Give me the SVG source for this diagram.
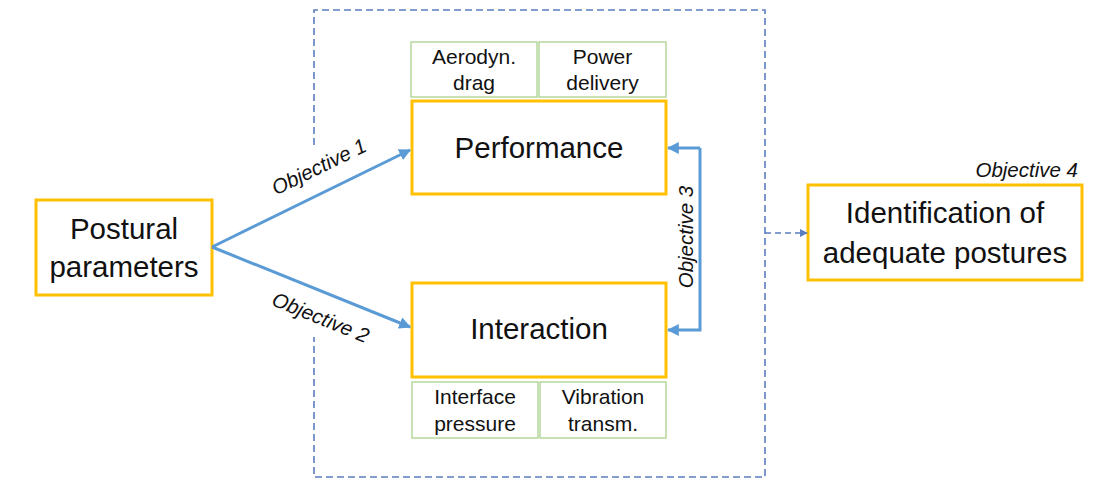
<svg xmlns="http://www.w3.org/2000/svg" width="1103" height="480" viewBox="0 0 1103 480">
  <style>
    .main { fill: #ffffff; stroke: #FFC000; stroke-width: 3; }
    .sub { fill: #ffffff; stroke: #A9D18E; stroke-width: 1.3; }
    .big { font-family: "Liberation Sans", Arial, sans-serif; font-size: 29.5px; fill: #111; text-anchor: middle; }
    .small { font-family: "Liberation Sans", Arial, sans-serif; font-size: 21px; fill: #111; text-anchor: middle; }
    .obj { font-family: "Liberation Sans", Arial, sans-serif; font-size: 20.5px; font-style: italic; fill: #111; }
    .flow { fill: none; stroke: #5B9BD5; stroke-width: 3; }
    .frame { fill: none; stroke: #5B7DC0; stroke-width: 1.6; stroke-dasharray: 7 4; }
  </style>
  <defs>
    <marker id="arrowBlue" viewBox="0 0 10 10" refX="9" refY="5" markerWidth="4" markerHeight="4" orient="auto" markerUnits="strokeWidth">
      <path d="M0,0 L10,5 L0,10 z" fill="#5B9BD5"/>
    </marker>
    <marker id="arrowDash" viewBox="0 0 10 10" refX="9" refY="5" markerWidth="5" markerHeight="5" orient="auto" markerUnits="strokeWidth">
      <path d="M0,0 L10,5 L0,10 z" fill="#5B7DC0"/>
    </marker>
  </defs>

  <!-- dashed boundary around the two assessment blocks -->
  <g id="frame">
    <path class="frame" d="M314,145 L314,10 L765,10 L765,477 L314,477 L314,337"/>
  </g>

  <g id="postural">
    <rect class="main" x="36" y="200" width="176" height="95"/>
    <text class="big" x="124" y="239">Postural</text>
    <text class="big" x="124" y="277">parameters</text>
  </g>

  <g id="performance">
    <rect class="main" x="412" y="101" width="254" height="93"/>
    <text class="big" x="539" y="158">Performance</text>
  </g>

  <g id="aerodyn">
    <rect class="sub" x="411" y="42" width="126" height="55"/>
    <text class="small" x="474" y="64">Aerodyn.</text>
    <text class="small" x="474" y="90">drag</text>
  </g>

  <g id="power">
    <rect class="sub" x="539" y="42" width="127" height="55"/>
    <text class="small" x="602.5" y="64">Power</text>
    <text class="small" x="602.5" y="90">delivery</text>
  </g>

  <g id="interaction">
    <rect class="main" x="412" y="283" width="254" height="94"/>
    <text class="big" x="539" y="339">Interaction</text>
  </g>

  <g id="interface">
    <rect class="sub" x="412" y="382" width="126" height="56"/>
    <text class="small" x="475" y="404">Interface</text>
    <text class="small" x="475" y="431">pressure</text>
  </g>

  <g id="vibration">
    <rect class="sub" x="540" y="382" width="126" height="56"/>
    <text class="small" x="603" y="404">Vibration</text>
    <text class="small" x="603" y="431">transm.</text>
  </g>

  <g id="identification">
    <rect class="main" x="808" y="185" width="274" height="95"/>
    <text class="big" x="945" y="223">Identification of</text>
    <text class="big" x="945" y="263">adequate postures</text>
    <text class="obj" x="1078" y="177" text-anchor="end">Objective 4</text>
  </g>

  <g id="connectors">
    <line class="flow" x1="212" y1="247" x2="410" y2="150" marker-end="url(#arrowBlue)"/>
    <line class="flow" x1="212" y1="247" x2="410" y2="327" marker-end="url(#arrowBlue)"/>
    <polyline class="flow" points="700,148 700,330 668,330" marker-end="url(#arrowBlue)"/>
    <line class="flow" x1="700" y1="148" x2="668" y2="148" marker-end="url(#arrowBlue)"/>
    <line x1="765" y1="233" x2="807" y2="233" stroke="#5B7DC0" stroke-width="1.6" stroke-dasharray="6 4" marker-end="url(#arrowDash)"/>

    <text class="obj" text-anchor="middle" transform="translate(322,173) rotate(-26)">Objective 1</text>
    <text class="obj" text-anchor="middle" transform="translate(318,324) rotate(22)">Objective 2</text>
    <text class="obj" text-anchor="middle" transform="translate(693,237) rotate(-90)">Objective 3</text>
  </g>
</svg>
